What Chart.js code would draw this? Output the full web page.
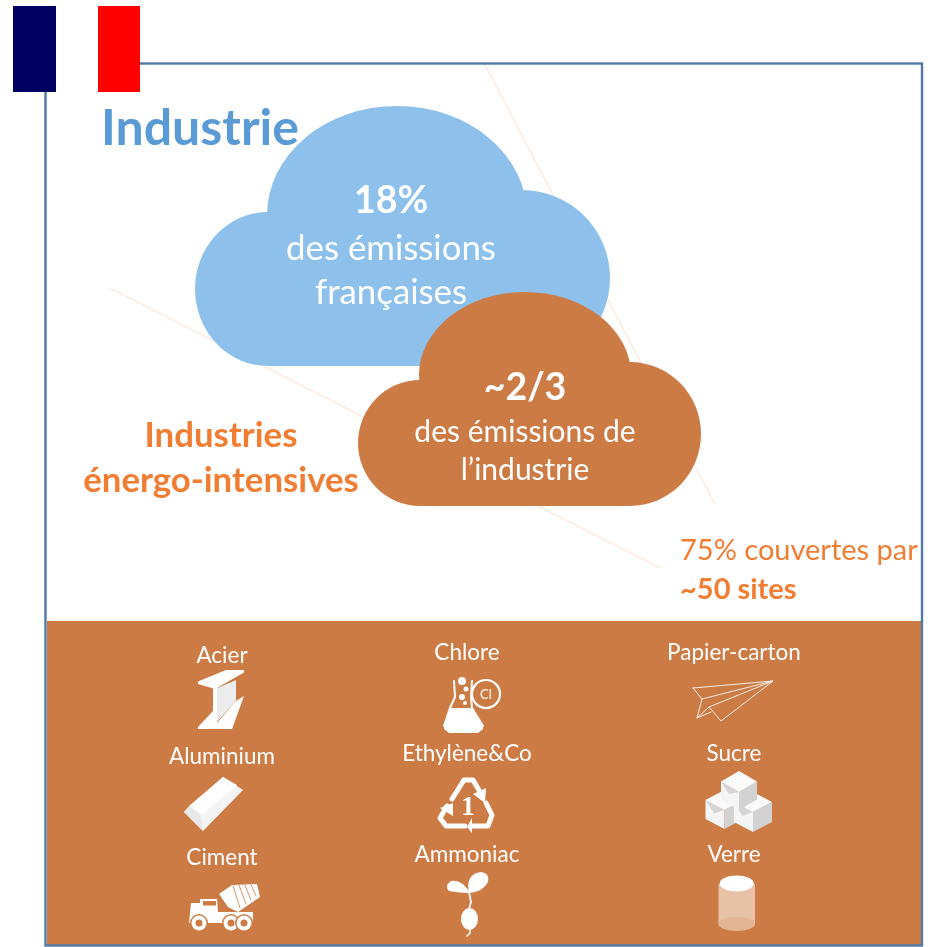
<!DOCTYPE html>
<html lang="fr">
<head>
<meta charset="utf-8">
<title>Industrie</title>
<script src="https://cdn.jsdelivr.net/npm/chart.js@4"></script>
<style>
html,body{margin:0;padding:0;background:#fff;overflow:hidden}
#wrap{width:942px;height:947px;position:relative}
</style>
</head>
<body>
<div id="wrap"><canvas id="page"></canvas></div>
<script>
// texts of the infographic
const title = "Industrie";
const cloudBig = ["18%", "des émissions", "françaises"];
const cloudSmall = ["~2/3", "des émissions de", "l’industrie"];
const sideLabel = ["Industries", "énergo-intensives"];
const sitesLabel = ["75% couvertes par", "~50 sites"];
const sectors = ["Acier", "Chlore", "Papier-carton", "Aluminium", "Ethylène&Co", "Sucre", "Ciment", "Ammoniac", "Verre"];

const BLUE = "#8dc1ec", BROWN = "#cc7b45", ORANGE = "#f07d32", FRAME = "#4f7ba6", TITLE_BLUE = "#5b9bd5";
const FONT = "Lato, Carlito, sans-serif";

let ctx, X, Y;
function poly(pts, fill){
  ctx.beginPath();
  pts.forEach((p,i)=> i ? ctx.lineTo(X(p[0]),Y(p[1])) : ctx.moveTo(X(p[0]),Y(p[1])));
  ctx.closePath(); ctx.fillStyle = fill; ctx.fill();
}
function stroke(pts, color, w){
  ctx.beginPath();
  pts.forEach((p,i)=> i ? ctx.lineTo(X(p[0]),Y(p[1])) : ctx.moveTo(X(p[0]),Y(p[1])));
  ctx.strokeStyle = color; ctx.lineWidth = w; ctx.lineJoin = "round"; ctx.lineCap = "round"; ctx.stroke();
}
function disc(x,y,r,fill){ ctx.beginPath(); ctx.arc(X(x),Y(y),r,0,Math.PI*2); ctx.fillStyle=fill; ctx.fill(); }
function oval(x,y,rx,ry,fill){ ctx.beginPath(); ctx.ellipse(X(x),Y(y),rx,ry,0,0,Math.PI*2); ctx.fillStyle=fill; ctx.fill(); }
function box(x0,y0,x1,y1,fill){ ctx.fillStyle=fill; ctx.fillRect(X(x0),Y(y0),X(x1)-X(x0),Y(y1)-Y(y0)); }
function text(s,x,y,size,color,bold,align){
  ctx.font = (bold?"700 ":"400 ")+size+"px "+FONT;
  ctx.fillStyle = color; ctx.textAlign = align||"center"; ctx.textBaseline = "middle";
  ctx.fillText(s,X(x),Y(y));
}
function cloud(lobes, base, fill){
  lobes.forEach(l=>oval(l[0],l[1],l[2],l[3],fill));
  box(base[0],base[1],base[2],base[3],fill);
}
function isoCube(cx,ty,hw,hh,d){
  poly([[cx-hw,ty+hh],[cx,ty+2*hh],[cx,ty+2*hh+d],[cx-hw,ty+hh+d]],"#f4f4f4");
  poly([[cx-hw,ty+hh],[cx,ty+2*hh],[cx-hw*0.55,ty+hh+d*0.7]],"#d4d4d4");
  poly([[cx+hw,ty+hh],[cx,ty+2*hh],[cx,ty+2*hh+d],[cx+hw,ty+hh+d]],"#d2d2d2");
  poly([[cx,ty],[cx+hw,ty+hh],[cx,ty+2*hh],[cx-hw,ty+hh]],"#fafafa");
}

function iconAcier(){
  poly([[215,689],[236,680],[236,701],[216,723]],"#ececec");
  poly([[213,688],[217,688],[217,724],[213,712]],"#fff");
  poly([[198,681.5],[226,670],[244,670],[244,672.5],[215,689],[198,684]],"#fff");
  poly([[198,727],[213,711],[217,723],[236,701],[244,696],[232,729],[198,729]],"#fff");
}
function iconChlore(){
  poly([[450,708],[472,708],[483,726],[483,729],[478,733],[449,733],[444,729],[444,726]],"#fff");
  stroke([[454,681],[455,697],[450,708],[444,726]],"#fff",2);
  stroke([[472,681],[471,697],[472,708],[483,726]],"#fff",2);
  disc(462,681,4,"#fff"); disc(466,689,2.5,"#fff"); disc(462,697,3,"#fff"); disc(465,703,2,"#fff");
  disc(486,694,14,BROWN);
  ctx.beginPath(); ctx.arc(X(486),Y(694),14,0,Math.PI*2); ctx.strokeStyle="#fff"; ctx.lineWidth=2.2; ctx.stroke();
  text("Cl",486,695,13,"#fff",false);
}
function iconPapier(){
  const c="rgba(255,255,255,.85)";
  stroke([[693,688],[773,681],[721,721],[709,707],[697,718],[702,699],[693,688]],c,1);
  stroke([[702,699],[773,681],[709,707]],c,1);
  stroke([[697,718],[711,712]],c,1);
}
function iconAlu(){
  poly([[184,812],[223,777],[243,790],[203,831]],"#f4f4f4");
  poly([[189,806],[223,777],[237,785],[201,815]],"#fff");
  poly([[184,812],[189,806],[201,815],[203,831]],"#e8e8e8");
}
function iconCiment(){
  poly([[219,894],[232,885],[257,884],[260,897],[238,912],[228,907]],"#fff");
  [[233,886,240,908],[239,885,246,904],[245,885,251,900],[251,885,256,896]].forEach(s=>stroke([[s[0],s[1]],[s[2],s[3]]],BROWN,0.8));
  poly([[191,903],[200,903],[200,899],[217,899],[218,912],[253,912],[253,923],[189,923]],"#fff");
  box(203,901,216,905.5,BROWN);
  [[199,923],[231,923],[244,923]].forEach(w=>{ disc(w[0],w[1],9,BROWN); disc(w[0],w[1],7.5,"#fff"); disc(w[0],w[1],3.5,BROWN); });
}
function iconRecycle(){
  const c="#fff";
  stroke([[452,799],[464,780],[473,780],[480,792]],c,5);
  poly([[473,794],[486,788],[485,803]],c);
  stroke([[486,803],[492,815],[488,826],[471,826]],c,5);
  poly([[472,818],[467,827],[472,833]],c);
  stroke([[465,826],[446,826],[440,818],[447,806]],c,5);
  poly([[440,808],[453,803],[453,816]],c);
  ctx.save(); ctx.font="700 27px 'Liberation Serif'"; ctx.fillStyle=c; ctx.textAlign="center"; ctx.textBaseline="middle";
  ctx.fillText("1",X(468),Y(808)); ctx.restore();
}
function iconRadis(){
  ctx.fillStyle="#fff"; ctx.beginPath();
  ctx.moveTo(X(469),Y(893));
  ctx.quadraticCurveTo(X(465),Y(874),X(481),Y(872));
  ctx.quadraticCurveTo(X(490),Y(873),X(488),Y(882));
  ctx.quadraticCurveTo(X(483),Y(892),X(469),Y(893));
  ctx.moveTo(X(470),Y(893));
  ctx.quadraticCurveTo(X(462),Y(879),X(451),Y(881));
  ctx.quadraticCurveTo(X(444),Y(886),X(449),Y(891));
  ctx.quadraticCurveTo(X(459),Y(893),X(470),Y(893));
  ctx.fill();
  stroke([[469,892],[471,902],[469,909]],"#fff",1.8);
  oval(469.5,919,8.5,11,"#fff");
  stroke([[470,928],[470,933],[467,936]],"#fff",1.5);
}
function iconSucre(){
  isoCube(724.5,790,19,10,19);
  isoCube(753,792,19,10,20);
  isoCube(739,771,18,10.5,18);
}
function iconVerre(){
  box(718.5,884,755,924,"#e8c2a6");
  oval(736.7,924,18.3,7,"#e3b595");
  oval(736.7,883.5,17,8,"#fff");
}

const pagePlugin = {
  id:"page",
  beforeDatasetsDraw(chart){
    ctx = chart.ctx; X = v=>chart.scales.x.getPixelForValue(v); Y = v=>chart.scales.y.getPixelForValue(v);
    ctx.save();
    box(47,621,921,945,BROWN);
    ctx.restore();
  },
  afterDatasetsDraw(chart){
    ctx.save();
    ctx.strokeStyle = FRAME; ctx.lineWidth = 2.4;
    ctx.strokeRect(X(45.5),Y(63.5),X(922)-X(45.5),Y(945.5)-Y(63.5));
    box(13,6,56,92,"#000060"); box(56,6,98,92,"#fff"); box(98,6,140,92,"#f00");

    text(title,200,129,50,TITLE_BLUE,true);

    cloud([[268,289,73,77],[397,215,130,109],[522,278,88,88]],[268,240,527,366],BLUE);
    text(cloudBig[0],391,200.5,37.5,"#fff",true);
    text(cloudBig[1],391,248.5,34.8,"#fff",false);
    text(cloudBig[2],391,292.5,34.8,"#fff",false);

    cloud([[420,443,62,63],[525,375,106,83],[630,434,71,72]],[420,400,630,506],BROWN);
    text(cloudSmall[0],525,387.5,37.5,"#fff",true);
    text(cloudSmall[1],525,432.5,30,"#fff",false);
    text(cloudSmall[2],525,470.5,30,"#fff",false);

    text(sideLabel[0],221,435.5,34.8,ORANGE,true);
    text(sideLabel[1],221,480.5,34.8,ORANGE,true);
    text(sitesLabel[0],680,550.5,29,ORANGE,false,"left");
    text(sitesLabel[1],680,589.5,29,ORANGE,true,"left");

    const sx=[222,467,734], sy=[[655.5,756.5,857.5],[652.5,753.5,854.5],[652.5,753.5,854.5]];
    sectors.forEach((s,i)=>text(s,sx[i%3],sy[i%3][Math.floor(i/3)],22.5,"#fff",false));
    [iconAcier,iconChlore,iconPapier,iconAlu,iconRecycle,iconSucre,iconCiment,iconRadis,iconVerre].forEach(f=>f());
    ctx.restore();
  }
};

new Chart(document.getElementById("page"), {
  type:"scatter",
  data:{ datasets:[
    { data:[{x:484,y:63},{x:715,y:504}], showLine:true, pointRadius:0, borderColor:"#fbdfcb", borderWidth:1 },
    { data:[{x:110,y:288},{x:660,y:568}], showLine:true, pointRadius:0, borderColor:"#fbdfcb", borderWidth:1 }
  ]},
  options:{
    responsive:true, maintainAspectRatio:false, animation:false,
    layout:{padding:0},
    plugins:{legend:{display:false}, tooltip:{enabled:false}},
    scales:{
      x:{type:"linear", min:0, max:942, display:false},
      y:{type:"linear", min:0, max:947, reverse:true, display:false}
    }
  },
  plugins:[pagePlugin]
});
</script>
</body>
</html>
